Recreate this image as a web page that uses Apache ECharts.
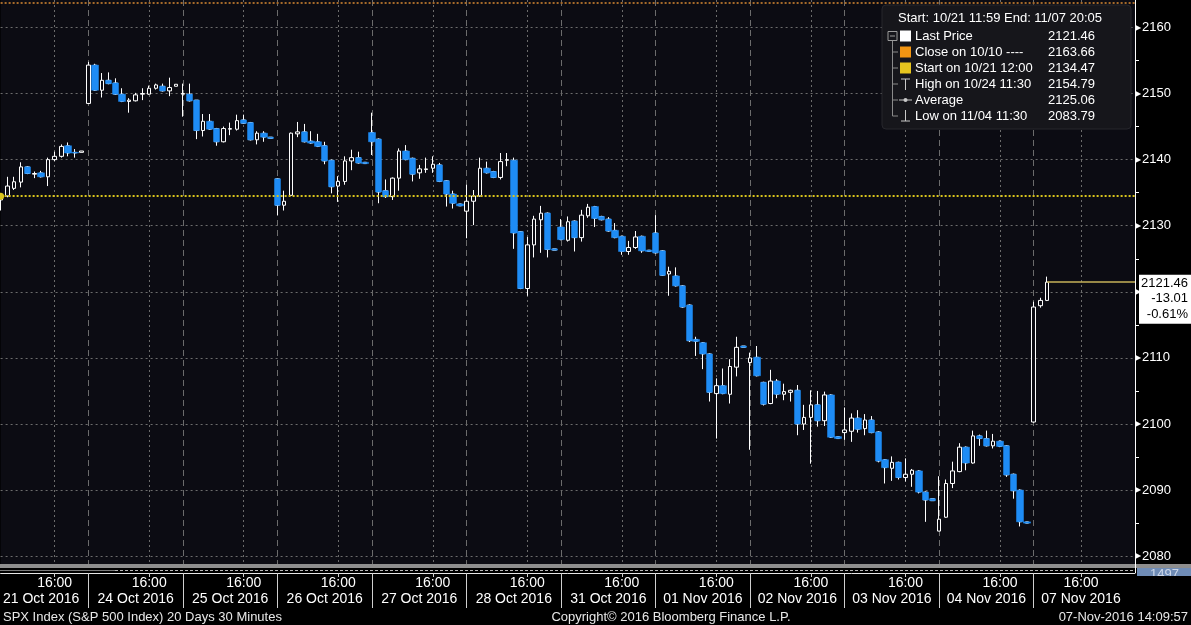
<!DOCTYPE html>
<html><head><meta charset="utf-8">
<script src="https://cdn.jsdelivr.net/npm/echarts@6/dist/echarts.min.js"></script>
<style>html,body{margin:0;padding:0;background:#000;}#c{width:1191px;height:625px;}</style>
</head><body><div id="c"></div>
<script>
// ---------- DATA ----------
const dayNames = ['21 Oct 2016','24 Oct 2016','25 Oct 2016','26 Oct 2016','27 Oct 2016','28 Oct 2016',
  '31 Oct 2016','01 Nov 2016','02 Nov 2016','03 Nov 2016','04 Nov 2016','07 Nov 2016'];
const barsPerDay = [13,14,14,14,14,14,14,14,14,14,14,3];
const firstBarTime = ['12:00','11:30','11:30','11:30','11:30','11:30','11:30','11:30','11:30','11:30','11:30','12:30'];
const emptySlotsAfter = 13;

const open = [
2133.9,2134.5,2135.65,2136.6,2138.9,2137.8,2138.0,2137.4,2140.0,2140.5,2142.1,2141.1,2141.1,
2148.5,2154.3,2150.5,2152.0,2151.6,2149.9,2148.8,2148.9,2149.9,2149.9,2150.8,2151.1,2150.4,2151.1,
2149.9,2149.9,2149.0,2144.4,2145.8,2144.7,2142.7,2144.6,2144.6,2146.0,2145.6,2143.0,2144.0,2143.4,
2137.1,2133.1,2134.6,2143.9,2144.2,2142.8,2142.7,2142.1,2139.9,2136.0,2136.7,2139.8,2140.3,2139.6,
2144.1,2143.1,2135.3,2134.4,2137.2,2141.3,2140.2,2138.0,2138.5,2138.7,2139.2,2136.8,2134.8,2133.3,
2132.2,2133.7,2134.5,2138.7,2138.2,2137.3,2139.9,2139.9,2129.1,2120.5,2127.1,2130.9,2131.9,2126.5,
2129.8,2127.8,2130.7,2128.2,2131.5,2132.9,2131.4,2131.0,2129.3,2128.4,2126.1,2126.7,2128.4,2126.3,
2128.9,2126.2,2122.7,2122.4,2120.9,2118.0,2112.8,2112.3,2110.6,2104.6,2105.8,2104.5,2108.6,2111.8,
2109.3,2110.1,2106.3,2103.1,2106.5,2104.5,2104.8,2105.1,2100.0,2101.0,2102.9,2100.5,2104.4,2098.1,
2098.7,2098.9,2100.9,2099.3,2100.6,2098.8,2094.6,2093.3,2094.2,2091.9,2092.4,2092.9,2089.7,2088.7,
2083.8,2085.9,2091.0,2092.8,2096.5,2094.1,2098.2,2097.8,2096.7,2097.4,2096.7,2092.4,2090.0,2085.2,
2100.3,2117.9,2118.7];
const close = [
2134.47,2136.0,2136.65,2138.9,2137.9,2137.9,2137.4,2140.0,2140.5,2142.0,2141.0,2141.0,2141.3,
2154.3,2150.5,2152.0,2151.5,2149.9,2148.8,2149.0,2149.8,2150.0,2150.8,2151.3,2150.4,2150.9,2151.4,
2150.0,2148.9,2144.4,2145.8,2144.6,2142.7,2144.7,2144.7,2145.9,2145.5,2143.0,2144.0,2143.4,2143.2,
2133.1,2133.7,2144.0,2144.2,2142.7,2142.5,2142.0,2139.8,2135.9,2136.7,2139.8,2140.3,2139.5,2139.4,
2142.7,2135.1,2134.4,2137.2,2141.3,2140.0,2137.8,2138.6,2138.6,2139.3,2136.7,2134.8,2133.4,2133.0,
2133.7,2134.5,2138.7,2138.0,2137.3,2139.7,2140.0,2128.9,2120.5,2127.1,2131.0,2131.9,2126.4,2126.3,
2127.9,2130.6,2128.2,2131.6,2132.8,2131.1,2130.9,2129.2,2128.2,2126.1,2126.7,2128.3,2126.2,2126.1,
2125.9,2122.5,2123.1,2120.9,2117.7,2112.6,2112.5,2110.6,2104.8,2105.8,2104.6,2108.7,2111.6,2111.6,
2110.0,2107.3,2103.0,2106.5,2104.5,2104.9,2105.1,2100.0,2101.0,2102.9,2100.5,2104.4,2098.0,2097.8,
2099.1,2100.9,2099.2,2100.6,2098.7,2094.4,2093.4,2094.2,2091.9,2092.4,2093.0,2089.7,2088.5,2088.4,
2085.6,2091.0,2092.9,2096.5,2094.1,2098.2,2097.8,2096.7,2097.4,2096.6,2092.3,2089.9,2085.2,2085.0,
2117.7,2118.7,2121.46];
const low = [
2132.3,2134.3,2135.4,2135.8,2137.8,2137.2,2137.3,2136.0,2139.8,2140.3,2140.5,2140.3,2141.1,
2148.4,2150.4,2149.4,2151.4,2149.8,2148.7,2147.1,2148.8,2149.0,2149.8,2150.6,2150.3,2149.6,2151.1,
2146.5,2148.8,2143.1,2143.5,2144.5,2142.1,2142.6,2143.7,2144.4,2145.4,2142.9,2142.3,2142.7,2143.2,
2131.6,2132.3,2134.5,2143.4,2142.6,2142.4,2141.9,2139.3,2134.9,2133.6,2136.2,2138.4,2139.4,2139.4,
2140.7,2133.4,2134.2,2133.9,2135.3,2139.9,2136.7,2137.1,2138.0,2138.0,2136.6,2132.9,2132.6,2133.0,
2128.1,2130.1,2134.4,2137.9,2137.2,2137.0,2139.0,2126.5,2120.4,2119.4,2125.2,2125.9,2125.2,2126.3,
2127.8,2127.6,2126.1,2127.6,2131.2,2129.8,2130.8,2129.1,2128.1,2125.6,2125.6,2126.5,2125.9,2126.1,
2125.8,2122.4,2119.4,2120.8,2117.6,2112.4,2110.3,2108.3,2103.4,2097.8,2104.5,2103.1,2107.2,2111.6,
2096.1,2107.2,2102.8,2103.0,2103.9,2103.6,2103.4,2098.3,2099.1,2094.0,2099.6,2099.7,2097.9,2097.8,
2097.6,2097.3,2098.7,2098.3,2098.6,2094.2,2091.0,2091.4,2091.6,2091.3,2090.5,2089.5,2085.2,2088.4,
2083.79,2085.8,2090.3,2092.7,2093.0,2094.0,2096.7,2096.6,2096.3,2096.5,2092.0,2088.7,2084.5,2085.0,
2100.2,2117.6,2118.6];
const high = [
2134.9,2137.4,2137.4,2139.6,2139.0,2138.2,2138.3,2140.3,2141.2,2142.3,2142.6,2141.6,2141.3,
2154.79,2154.5,2153.1,2153.2,2152.3,2150.8,2149.3,2150.1,2150.8,2151.2,2151.5,2151.5,2152.4,2151.4,
2151.5,2151.5,2149.0,2146.9,2146.9,2144.8,2145.0,2145.6,2146.8,2146.8,2145.7,2144.3,2144.3,2143.4,
2137.2,2135.3,2144.1,2145.7,2145.4,2144.3,2143.9,2142.7,2140.0,2137.5,2140.5,2141.5,2141.2,2139.6,
2147.1,2143.2,2137.0,2137.3,2141.7,2142.2,2140.3,2139.2,2140.3,2140.5,2139.5,2136.9,2135.3,2133.3,
2136.2,2135.4,2140.3,2139.7,2138.3,2141.0,2141.0,2140.3,2129.2,2128.3,2131.5,2133.0,2132.0,2126.5,
2131.0,2131.4,2130.8,2132.4,2133.3,2133.0,2131.5,2131.3,2130.4,2128.5,2127.7,2129.2,2128.5,2126.3,
2131.6,2126.3,2123.8,2123.7,2121.0,2118.1,2113.2,2112.4,2110.7,2106.9,2108.4,2109.8,2113.2,2111.8,
2110.8,2111.8,2106.4,2108.2,2106.8,2106.1,2105.2,2105.9,2102.9,2105.1,2105.0,2104.9,2104.5,2098.1,
2102.5,2101.6,2102.1,2101.5,2101.2,2098.9,2094.7,2095.1,2094.3,2094.8,2093.2,2093.0,2089.8,2088.7,
2092.1,2091.6,2094.3,2097.1,2096.6,2099.0,2098.4,2099.0,2098.5,2097.5,2096.8,2092.5,2090.1,2085.2,
2118.5,2119.1,2122.3];

const yLabelValues = [2080,2090,2100,2110,2120,2130,2140,2150,2160];
const yMinorTickValues = [2080,2085,2090,2095,2100,2105,2110,2115,2120,2125,2130,2135,2140,2145,2150,2155,2160];
const yMin = 2078.82, yMax = 2164.15;
const startPrice = 2134.47, closeOct10 = 2163.66, lastPrice = 2121.46;
const netChange = '-13.01', pctChange = '-0.61%';
const legendHeader = 'Start: 10/21 11:59 End: 11/07 20:05';
const legendRows = [
  {icon:'square', color:'#ffffff', label:'Last Price', value:'2121.46'},
  {icon:'square', color:'#f29512', label:'Close on 10/10 ----', value:'2163.66'},
  {icon:'square', color:'#e6c51f', label:'Start on 10/21 12:00', value:'2134.47'},
  {icon:'high', label:'High on 10/24 11:30', value:'2154.79'},
  {icon:'avg', label:'Average', value:'2125.06'},
  {icon:'low', label:'Low on 11/04 11:30', value:'2083.79'}
];
const footerLeft = 'SPX Index (S&P 500 Index) 20 Days 30 Minutes';
const footerMid = 'Copyright\u00A9 2016 Bloomberg Finance L.P.';
const footerRight = '07-Nov-2016 14:09:57';
const volLabel = '1497';

// ---------- BUILD CATEGORIES ----------
function fmt(t){const h=Math.floor(t/60),m=t%60;return (h<10?'0':'')+h+':'+(m<10?'0':'')+m;}
const cats=[], dayOf=[], times=[];
let tt=0;
dayNames.forEach((d,k)=>{
  const p=firstBarTime[k].split(':').map(Number); tt=p[0]*60+p[1];
  for(let j=0;j<barsPerDay[k];j++){cats.push(d+' '+fmt(tt));dayOf.push(k);times.push(fmt(tt));tt+=30;}
});
for(let j=0;j<emptySlotsAfter;j++){const k=dayNames.length-1;cats.push(dayNames[k]+' '+fmt(tt));dayOf.push(k);times.push(fmt(tt));tt+=30;}
const N=cats.length;
const isBoundary=cats.map((c,i)=>i>0&&dayOf[i]!==dayOf[i-1]);
const is1600=times.map(t=>t==='16:00');
const dayFirst=[];dayOf.forEach((k,i)=>{if(dayFirst[k]===undefined)dayFirst[k]=i;});
const isDateLbl=cats.map(()=>false);
dayFirst.forEach((s,k)=>{const e=(k+1<dayFirst.length)?dayFirst[k+1]:N-1;isDateLbl[Math.floor((s+e)/2)]=true;});

const candles=open.map((o,i)=>[o,close[i],low[i],high[i]]);
const downBodies=open.map((o,i)=>close[i]<o?[o,close[i],close[i],o]:'-');

const FONT='"Liberation Sans", Arial, sans-serif';
const chart=echarts.init(document.getElementById('c'),null,{renderer:'canvas'});

const option={
  backgroundColor:'#000',
  animation:false,
  grid:{left:0,right:56,top:0,bottom:61,show:true,backgroundColor:'#0c0c13',borderWidth:0},
  xAxis:[
    {type:'category',data:cats,boundaryGap:false,position:'bottom',offset:9,
     axisLine:{show:true,lineStyle:{color:'#e6e6e6',width:1}},
     axisTick:{show:true,interval:(i)=>isBoundary[i],length:35,lineStyle:{color:'#cfcfcf',width:1}},
     axisLabel:{show:true,interval:(i)=>is1600[i],formatter:()=>'16:00',color:'#ffffff',fontSize:14,margin:3,fontFamily:FONT},
     splitLine:{show:true,interval:(i)=>isBoundary[i],lineStyle:{color:'#6c6c6c',type:[6,4],width:1}}},
    {type:'category',data:cats,boundaryGap:false,position:'bottom',offset:9,
     axisLine:{show:false},
     axisTick:{show:true,interval:(i)=>is1600[i],length:4,lineStyle:{color:'#cfcfcf'}},
     axisLabel:{show:true,interval:(i)=>isDateLbl[i],formatter:(v,i)=>dayNames[dayOf[i]],color:'#ffffff',fontSize:14,margin:19,fontFamily:FONT},
     splitLine:{show:true,interval:(i)=>is1600[i],lineStyle:{color:'#6c6c6c',type:[2,3],width:1}}}
  ],
  yAxis:{type:'value',position:'right',min:yMin,max:yMax,scale:true,
    axisLine:{show:true,lineStyle:{color:'#ffffff',width:1}},
    axisTick:{show:true,customValues:yMinorTickValues,length:4,lineStyle:{color:'#ffffff'}},
    axisLabel:{show:true,customValues:yLabelValues,margin:0,
      formatter:(v)=>'{t|\u25B6}{v|'+v+'}',
      rich:{t:{fontSize:8,color:'#ffffff',verticalAlign:'middle',padding:[0,1,0,0]},
            v:{fontSize:13,color:'#ffffff',fontFamily:FONT,verticalAlign:'middle'}}},
    splitLine:{show:false}},
  series:[
    {type:'line',data:[],silent:true,z:1,
     markLine:{z:1,silent:true,symbol:'none',label:{show:false},animation:false,
       data:yLabelValues.map(v=>({yAxis:v,lineStyle:{color:'#6c6c6c',type:[2,3],width:1}}))}},
    {type:'candlestick',name:'SPX',data:candles,barWidth:4,z:2,
     itemStyle:{color:'#0c0c13',color0:'#0c0c13',borderColor:'#ffffff',borderColor0:'#ffffff',borderWidth:1},
     markLine:{silent:true,symbol:'none',label:{show:false},animation:false,
       data:[
         {yAxis:startPrice,lineStyle:{color:'#d9c41c',type:[2,2],width:2}},
         {yAxis:closeOct10,lineStyle:{color:'#a56a2a',type:[2,2],width:2}},
         [{coord:[open.length-1,lastPrice],lineStyle:{color:'#c6b25a',type:'solid',width:1.5}},{coord:[N-1,lastPrice]}]
       ]},
     markPoint:{silent:true,label:{show:false},animation:false,
       data:[{coord:[0,startPrice],symbol:'circle',symbolSize:7,itemStyle:{color:'#d9c41c'}}]}},
    {type:'candlestick',name:'down',data:downBodies,barWidth:7,z:3,
     itemStyle:{color:'#1e8cf5',color0:'#1e8cf5',borderColor:'#1e8cf5',borderColor0:'#1e8cf5',borderWidth:0.5}}
  ]
};
chart.setOption(option);

// ---------- GRAPHIC DECORATIONS ----------
const py=chart.convertToPixel({xAxisIndex:0,yAxisIndex:0},[open.length-1,lastPrice])[1];
const g=[];
// scroll bar under plot
g.push({type:'rect',shape:{x:0,y:564,width:1191,height:4},style:{fill:'#8e8e8e'},z:50});
g.push({type:'rect',shape:{x:0,y:568,width:1135,height:5},style:{fill:'#000'},z:50});
g.push({type:'line',shape:{x1:0,y1:570.5,x2:115,y2:570.5},style:{stroke:'#7a7a7a',lineWidth:1},z:51});
g.push({type:'line',shape:{x1:115,y1:570.5,x2:1135,y2:570.5},style:{stroke:'#b8b8b8',lineWidth:1,lineDash:[3,2]},z:51});
g.push({type:'line',shape:{x1:1135.5,y1:564,x2:1135.5,y2:573},style:{stroke:'#fff',lineWidth:1},z:52});
// volume label box at right
g.push({type:'rect',shape:{x:1137,y:568,width:54,height:8},style:{fill:'#6f8cb6'},z:50});
g.push({type:'text',x:1150,y:568,style:{text:volLabel,fill:'#cdd8ea',font:'13px '+FONT,verticalAlign:'top'},z:51});
g.push({type:'rect',shape:{x:1137,y:576,width:54,height:8},style:{fill:'#000'},z:52});
// legend box
const LX=882,LY=5;
g.push({type:'rect',shape:{x:LX,y:LY,width:249,height:124,r:4},style:{fill:'#16161b',stroke:'#26262c'},z:60});
g.push({type:'text',x:898,y:18,style:{text:legendHeader,fill:'#fff',font:'13px '+FONT,verticalAlign:'middle'},z:61});
const treeX=892.5;
g.push({type:'rect',shape:{x:888,y:31.5,width:9,height:9},style:{fill:'none',stroke:'#9a9a9a',lineWidth:1},z:61});
g.push({type:'line',shape:{x1:890,y1:36,x2:895,y2:36},style:{stroke:'#9a9a9a',lineWidth:1},z:61});
g.push({type:'line',shape:{x1:treeX,y1:41,x2:treeX,y2:116},style:{stroke:'#8a8a8a',lineWidth:1},z:61});
legendRows.forEach((r,k)=>{
  const y=36+16*k;
  if(k>0) g.push({type:'line',shape:{x1:treeX,y1:y,x2:898,y2:y},style:{stroke:'#8a8a8a',lineWidth:1},z:61});
  if(r.icon==='square') g.push({type:'rect',shape:{x:900,y:y-5.5,width:11,height:11},style:{fill:r.color},z:61});
  if(r.icon==='high'){
    g.push({type:'line',shape:{x1:905.5,y1:y-5,x2:905.5,y2:y+6},style:{stroke:'#c8c8c8',lineWidth:1},z:61});
    g.push({type:'line',shape:{x1:901,y1:y-5,x2:910,y2:y-5},style:{stroke:'#c8c8c8',lineWidth:1},z:61});
  }
  if(r.icon==='avg'){
    g.push({type:'line',shape:{x1:899,y1:y,x2:912,y2:y},style:{stroke:'#c8c8c8',lineWidth:1},z:61});
    g.push({type:'circle',shape:{cx:905.5,cy:y,r:2},style:{fill:'#c8c8c8'},z:61});
  }
  if(r.icon==='low'){
    g.push({type:'line',shape:{x1:905.5,y1:y-6,x2:905.5,y2:y+5},style:{stroke:'#c8c8c8',lineWidth:1},z:61});
    g.push({type:'line',shape:{x1:901,y1:y+5,x2:910,y2:y+5},style:{stroke:'#c8c8c8',lineWidth:1},z:61});
  }
  g.push({type:'text',x:915,y:y,style:{text:r.label,fill:'#fff',font:'13px '+FONT,verticalAlign:'middle'},z:61});
  g.push({type:'text',x:1048,y:y,style:{text:r.value,fill:'#fff',font:'13px '+FONT,verticalAlign:'middle'},z:61});
});
// last price tag
g.push({type:'rect',shape:{x:1139,y:py-7.5,width:52,height:49},style:{fill:'#ffffff'},z:70});
[[lastPrice.toFixed(2),1.5],[netChange,16.5],[pctChange,32]].forEach(([t,dy])=>{
  g.push({type:'text',x:1188,y:py+dy,style:{text:t,fill:'#000',font:'13px '+FONT,align:'right',verticalAlign:'middle'},z:71});
});
// footer
g.push({type:'text',x:3,y:617,style:{text:footerLeft,fill:'#e8e8e8',font:'13px '+FONT,verticalAlign:'middle'},z:61});
g.push({type:'text',x:671,y:617,style:{text:footerMid,fill:'#e8e8e8',font:'13px '+FONT,align:'center',verticalAlign:'middle'},z:61});
g.push({type:'text',x:1188,y:617,style:{text:footerRight,fill:'#e8e8e8',font:'13px '+FONT,align:'right',verticalAlign:'middle'},z:61});
chart.setOption({graphic:{elements:g}});
</script>
</body></html>
